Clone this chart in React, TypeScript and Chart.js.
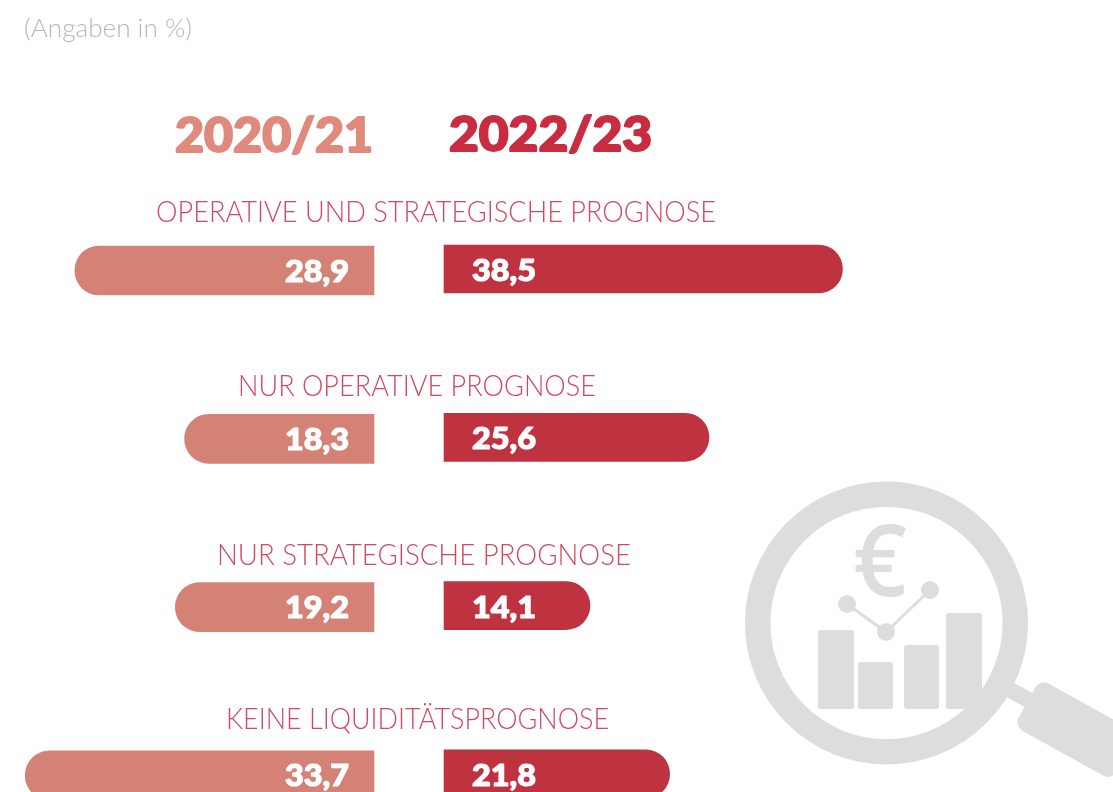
import React, { useEffect, useRef } from "react";
import { Chart, registerables } from "chart.js";

Chart.register(...registerables);

const unit = "(Angaben in %)";
const periods = ["2020/21", "2022/23"];
const categories = [
  "OPERATIVE UND STRATEGISCHE PROGNOSE",
  "NUR OPERATIVE PROGNOSE",
  "NUR STRATEGISCHE PROGNOSE",
  "KEINE LIQUIDITÄTSPROGNOSE",
];
const values2020 = [28.9, 18.3, 19.2, 33.7];
const values2022 = [38.5, 25.6, 14.1, 21.8];

const W = 1113;
const H = 792;
const PX_PER_UNIT = 10.35;
const ROW_STEP = 168.3;
const LEFT_ZERO = 374;
const RIGHT_ZERO = 444;
const LEFT_ROW0 = 270.5;
const RIGHT_ROW0 = 269;
const LABEL_BOXES = [
  [156, 716, 221.5],
  [238, 596, 396],
  [217, 631, 565],
  [226, 609, 729],
];

const LIGHT = "300 29px Lato, 'Open Sans', sans-serif";
const HEAVY = "900 48px Lato, 'Open Sans', sans-serif";
const VALUE = "900 30px Lato, 'Open Sans', sans-serif";

function fitText(ctx: CanvasRenderingContext2D, text: string, x0: number, x1: number, base: number, font: string, color: string, bold = 0) {
  ctx.save();
  ctx.font = font;
  ctx.fillStyle = color;
  ctx.textAlign = "left";
  ctx.textBaseline = "alphabetic";
  const m = ctx.measureText(text);
  ctx.translate(x0, base);
  ctx.scale((x1 - x0) / m.width, 1);
  if (bold) {
    ctx.strokeStyle = color;
    ctx.lineWidth = bold;
    ctx.lineJoin = "round";
    ctx.strokeText(text, 0, 0);
  }
  ctx.fillText(text, 0, 0);
  ctx.restore();
}

const decoration = {
  id: "decoration",
  beforeDatasetsDraw(chart: any) {
    const ctx: CanvasRenderingContext2D = chart.ctx;
    const G = "#DCDDDF";
    ctx.save();
    ctx.fillStyle = G;
    ctx.strokeStyle = G;
    // magnifier handle
    ctx.lineCap = "butt";
    ctx.lineWidth = 16;
    ctx.beginPath();
    ctx.moveTo(1003, 686);
    ctx.lineTo(1032, 702);
    ctx.stroke();
    ctx.save();
    ctx.translate(1027, 702.5);
    ctx.rotate((29 * Math.PI) / 180);
    ctx.beginPath();
    ctx.roundRect(0, -27, 112, 54, 10);
    ctx.fill();
    ctx.restore();
    // icon bars
    for (const [x, y, w, h] of [[818, 630, 36, 79], [858, 662, 35, 47], [904, 645, 35, 64], [946, 613, 36, 96]]) {
      ctx.beginPath();
      ctx.roundRect(x, y, w, h, 3);
      ctx.fill();
    }
    // ring, drawn over the bars
    ctx.lineWidth = 25.5;
    ctx.beginPath();
    ctx.arc(886.5, 623, 128.8, 0, Math.PI * 2);
    ctx.stroke();
    // trend line
    ctx.lineWidth = 3;
    ctx.beginPath();
    ctx.moveTo(847, 604);
    ctx.lineTo(886, 632);
    ctx.lineTo(930, 590);
    ctx.stroke();
    for (const [x, y] of [[847, 604], [886, 632], [930, 590]]) {
      ctx.beginPath();
      ctx.arc(x, y, 9, 0, Math.PI * 2);
      ctx.fill();
    }
    ctx.restore();
    fitText(ctx, "€", 853, 907, 596, "600 100px 'Open Sans', sans-serif", G);

    fitText(ctx, unit, 24, 192, 37, "300 25px Lato, 'Open Sans', sans-serif", "#B4B6B8");
    fitText(ctx, periods[0], 175, 373, 152, HEAVY, "#DF8A7C", 2);
    fitText(ctx, periods[1], 449, 652, 151, HEAVY, "#C92C41", 2);
    categories.forEach((c, i) => {
      const [a, b, base] = LABEL_BOXES[i];
      fitText(ctx, c, a, b, base, LIGHT, "#D2485F");
    });
  },
  afterDatasetsDraw(chart: any) {
    const ctx: CanvasRenderingContext2D = chart.ctx;
    chart.data.datasets.forEach((ds: any, d: number) => {
      chart.getDatasetMeta(d).data.forEach((bar: any, i: number) => {
        const text = ds.data[i].x.toFixed(1).replace(".", ",");
        ctx.save();
        ctx.font = VALUE;
        ctx.fillStyle = "#FFFFFF";
        ctx.strokeStyle = "#FFFFFF";
        ctx.lineWidth = 1.2;
        ctx.lineJoin = "round";
        ctx.textBaseline = "alphabetic";
        ctx.textAlign = d === 0 ? "right" : "left";
        ctx.translate(d === 0 ? bar.base - 25 : bar.base + 28, bar.y + (d === 0 ? 11 : 12));
        ctx.scale(1.08, 1);
        ctx.strokeText(text, 0, 0);
        ctx.fillText(text, 0, 0);
        ctx.restore();
      });
    });
  },
};

export default function App() {
  const ref = useRef<HTMLCanvasElement>(null);
  useEffect(() => {
    document.body.style.margin = "0";
    document.body.style.background = "#fff";
    const chart = new Chart(ref.current!, {
      type: "bar",
      data: {
        datasets: [
          {
            label: periods[0],
            data: values2020.map((v, i) => ({ x: v, y: i })),
            xAxisID: "xLeft",
            yAxisID: "yLeft",
            backgroundColor: "#D58276",
            barThickness: 49,
            grouped: false,
            borderSkipped: false,
            borderRadius: { topLeft: 24.5, bottomLeft: 24.5, topRight: 0, bottomRight: 0 },
          },
          {
            label: periods[1],
            data: values2022.map((v, i) => ({ x: v, y: i })),
            xAxisID: "xRight",
            yAxisID: "yRight",
            backgroundColor: "#BF3341",
            barThickness: 48,
            grouped: false,
            borderSkipped: false,
            borderRadius: { topLeft: 0, bottomLeft: 0, topRight: 24, bottomRight: 24 },
          },
        ],
      },
      options: {
        indexAxis: "y",
        animation: false,
        responsive: false,
        layout: { padding: 0 },
        plugins: { legend: { display: false }, tooltip: { enabled: false }, title: { display: false } },
        scales: {
          xLeft: { type: "linear", position: "bottom", display: false, reverse: true, min: -(W - LEFT_ZERO) / PX_PER_UNIT, max: LEFT_ZERO / PX_PER_UNIT },
          xRight: { type: "linear", position: "bottom", display: false, min: -RIGHT_ZERO / PX_PER_UNIT, max: (W - RIGHT_ZERO) / PX_PER_UNIT },
          yLeft: { type: "linear", display: false, offset: false, reverse: true, min: -LEFT_ROW0 / ROW_STEP, max: (H - LEFT_ROW0) / ROW_STEP },
          yRight: { type: "linear", display: false, offset: false, reverse: true, min: -RIGHT_ROW0 / ROW_STEP, max: (H - RIGHT_ROW0) / ROW_STEP },
        },
      },
      plugins: [decoration],
    } as any);
    return () => chart.destroy();
  }, []);
  return <canvas ref={ref} width={W} height={H} style={{ display: "block" }} />;
}
